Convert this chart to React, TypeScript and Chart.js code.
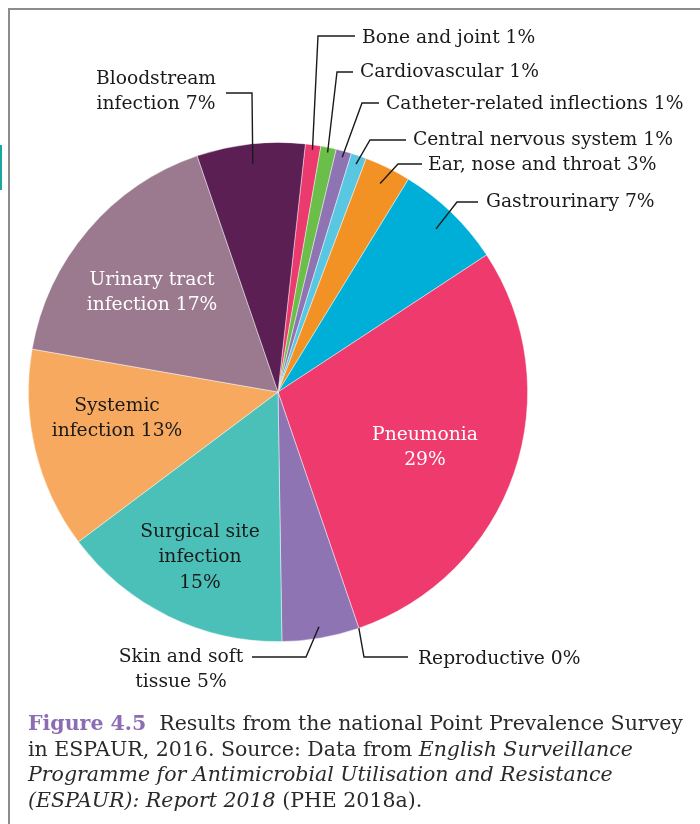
import React, { useEffect, useRef } from "react";
import { Chart, registerables } from "chart.js";

Chart.register(...registerables);

// ---- data ----
const categories = [
  "Bone and joint",
  "Cardiovascular",
  "Catheter-related inflections",
  "Central nervous system",
  "Ear, nose and throat",
  "Gastrourinary",
  "Pneumonia",
  "Reproductive",
  "Skin and soft tissue",
  "Surgical site infection",
  "Systemic infection",
  "Urinary tract infection",
  "Bloodstream infection",
];
const values = [1, 1, 1, 1, 3, 7, 29, 0, 5, 15, 13, 17, 7];
const sliceColors = [
  "#ec3a6f",
  "#6cbe4b",
  "#8e74b2",
  "#5ac7e2",
  "#f39224",
  "#00afd7",
  "#ef3a6d",
  "#ef3a6d",
  "#8e74b2",
  "#4bc0b8",
  "#f7a95f",
  "#9b7a90",
  "#5b1f54",
];
const labelTexts: string[][] = [
  ["Bone and joint 1%"],
  ["Cardiovascular 1%"],
  ["Catheter-related inflections 1%"],
  ["Central nervous system 1%"],
  ["Ear, nose and throat 3%"],
  ["Gastrourinary 7%"],
  ["Pneumonia", "29%"],
  ["Reproductive 0%"],
  ["Skin and soft", "tissue 5%"],
  ["Surgical site", "infection", "15%"],
  ["Systemic", "infection 13%"],
  ["Urinary tract", "infection 17%"],
  ["Bloodstream", "infection 7%"],
];

// ---- label layout (positions only) ----
type Lay = {
  x: number;
  y: number;
  align: CanvasTextAlign;
  color: string;
  elbow?: [number, number];
  end?: [number, number];
  tipR?: number;
  tipAt?: "mid" | "start";
};
const labelLayout: Lay[] = [
  { x: 362, y: 38, align: "left", color: "#1a1a1a", elbow: [318, 36], end: [355, 36], tipR: 0.98, tipAt: "mid" },
  { x: 360, y: 72, align: "left", color: "#1a1a1a", elbow: [337, 72], end: [353, 72], tipR: 0.98, tipAt: "mid" },
  { x: 386, y: 104, align: "left", color: "#1a1a1a", elbow: [362, 103], end: [379, 103], tipR: 0.975, tipAt: "mid" },
  { x: 413, y: 140, align: "left", color: "#1a1a1a", elbow: [370, 140], end: [406, 140], tipR: 0.965, tipAt: "mid" },
  { x: 428, y: 165, align: "left", color: "#1a1a1a", elbow: [398, 164], end: [422, 164], tipR: 0.93, tipAt: "mid" },
  { x: 486, y: 202, align: "left", color: "#1a1a1a", elbow: [457, 202], end: [478, 202], tipR: 0.91, tipAt: "mid" },
  { x: 425, y: 435, align: "center", color: "#ffffff" },
  { x: 418, y: 659, align: "left", color: "#1a1a1a", elbow: [364, 657], end: [408, 657], tipR: 1.0, tipAt: "start" },
  { x: 181, y: 657, align: "center", color: "#1a1a1a", elbow: [306, 657], end: [252, 657], tipR: 0.955, tipAt: "mid" },
  { x: 200, y: 532, align: "center", color: "#1a1a1a" },
  { x: 117, y: 406, align: "center", color: "#1a1a1a" },
  { x: 152, y: 280, align: "center", color: "#ffffff" },
  { x: 156, y: 79, align: "center", color: "#1a1a1a", elbow: [252, 93], end: [226, 93], tipR: 0.92, tipAt: "mid" },
];

const LABEL_FONT = "18.7px 'DejaVu Serif'";
const LINE_H = 25.5;

const labelPlugin = {
  id: "pieLabels",
  afterDatasetsDraw(chart: any) {
    const ctx: CanvasRenderingContext2D = chart.ctx;
    const meta = chart.getDatasetMeta(0);
    ctx.save();
    meta.data.forEach((arc: any, i: number) => {
      const lay = labelLayout[i];
      const p = arc.getProps(["x", "y", "startAngle", "endAngle", "outerRadius"], true);
      if (lay.elbow && lay.end) {
        const ang = lay.tipAt === "start" ? p.startAngle : (p.startAngle + p.endAngle) / 2;
        const r = p.outerRadius * (lay.tipR ?? 0.95);
        const tx = p.x + Math.cos(ang) * r;
        const ty = p.y + Math.sin(ang) * r;
        ctx.beginPath();
        ctx.moveTo(tx, ty);
        ctx.lineTo(lay.elbow[0], lay.elbow[1]);
        ctx.lineTo(lay.end[0], lay.end[1]);
        ctx.strokeStyle = "#1a1a1a";
        ctx.lineWidth = 1.4;
        ctx.stroke();
      }
      ctx.font = LABEL_FONT;
      ctx.fillStyle = lay.color;
      ctx.textAlign = lay.align;
      ctx.textBaseline = "middle";
      labelTexts[i].forEach((t, j) => {
        ctx.fillText(t, lay.x, lay.y + j * LINE_H);
      });
    });
    ctx.restore();
  },
};

export default function App() {
  const ref = useRef<HTMLCanvasElement | null>(null);
  useEffect(() => {
    if (!ref.current) return;
    const chart = new Chart(ref.current, {
      type: "pie",
      data: {
        labels: categories,
        datasets: [
          {
            data: values,
            backgroundColor: sliceColors,
            borderColor: "rgba(255,255,255,0.55)",
            borderWidth: 0.8,
          },
        ],
      },
      options: {
        animation: false,
        responsive: false,
        devicePixelRatio: 1,
        rotation: 6.3,
        layout: { padding: { left: 28, right: 172, top: 142, bottom: 182 } },
        plugins: {
          legend: { display: false },
          tooltip: { enabled: false },
        },
      },
      plugins: [labelPlugin],
    });
    return () => chart.destroy();
  }, []);

  return (
    <div style={{ position: "absolute", left: 0, top: 0, width: 700, height: 824, background: "#fff", overflow: "hidden" }}>
      <div
        style={{
          position: "absolute",
          left: 8,
          top: 8,
          width: 720,
          height: 840,
          borderTop: "2px solid #8c8c8c",
          borderLeft: "2px solid #8c8c8c",
        }}
      />
      <div style={{ position: "absolute", left: 0, top: 145, width: 2, height: 45, background: "#19a7a4" }} />
      <canvas ref={ref} width={700} height={824} style={{ position: "absolute", left: 0, top: 0 }} />
      <div
        style={{
          position: "absolute",
          left: 28,
          top: 711,
          width: 670,
          fontFamily: "'DejaVu Serif'",
          fontSize: 20.5,
          lineHeight: "25.5px",
          color: "#2a2a2a",
          whiteSpace: "nowrap",
        }}
      >
        <div>
          <span style={{ color: "#8c6cb3", fontWeight: 700 }}>Figure 4.5</span>&nbsp; Results from the national Point Prevalence Survey
        </div>
        <div>
          in ESPAUR, 2016. Source: Data from <i>English Surveillance</i>
        </div>
        <div>
          <i>Programme for Antimicrobial Utilisation and Resistance</i>
        </div>
        <div>
          <i>(ESPAUR): Report 2018</i> (PHE 2018a).
        </div>
      </div>
    </div>
  );
}
